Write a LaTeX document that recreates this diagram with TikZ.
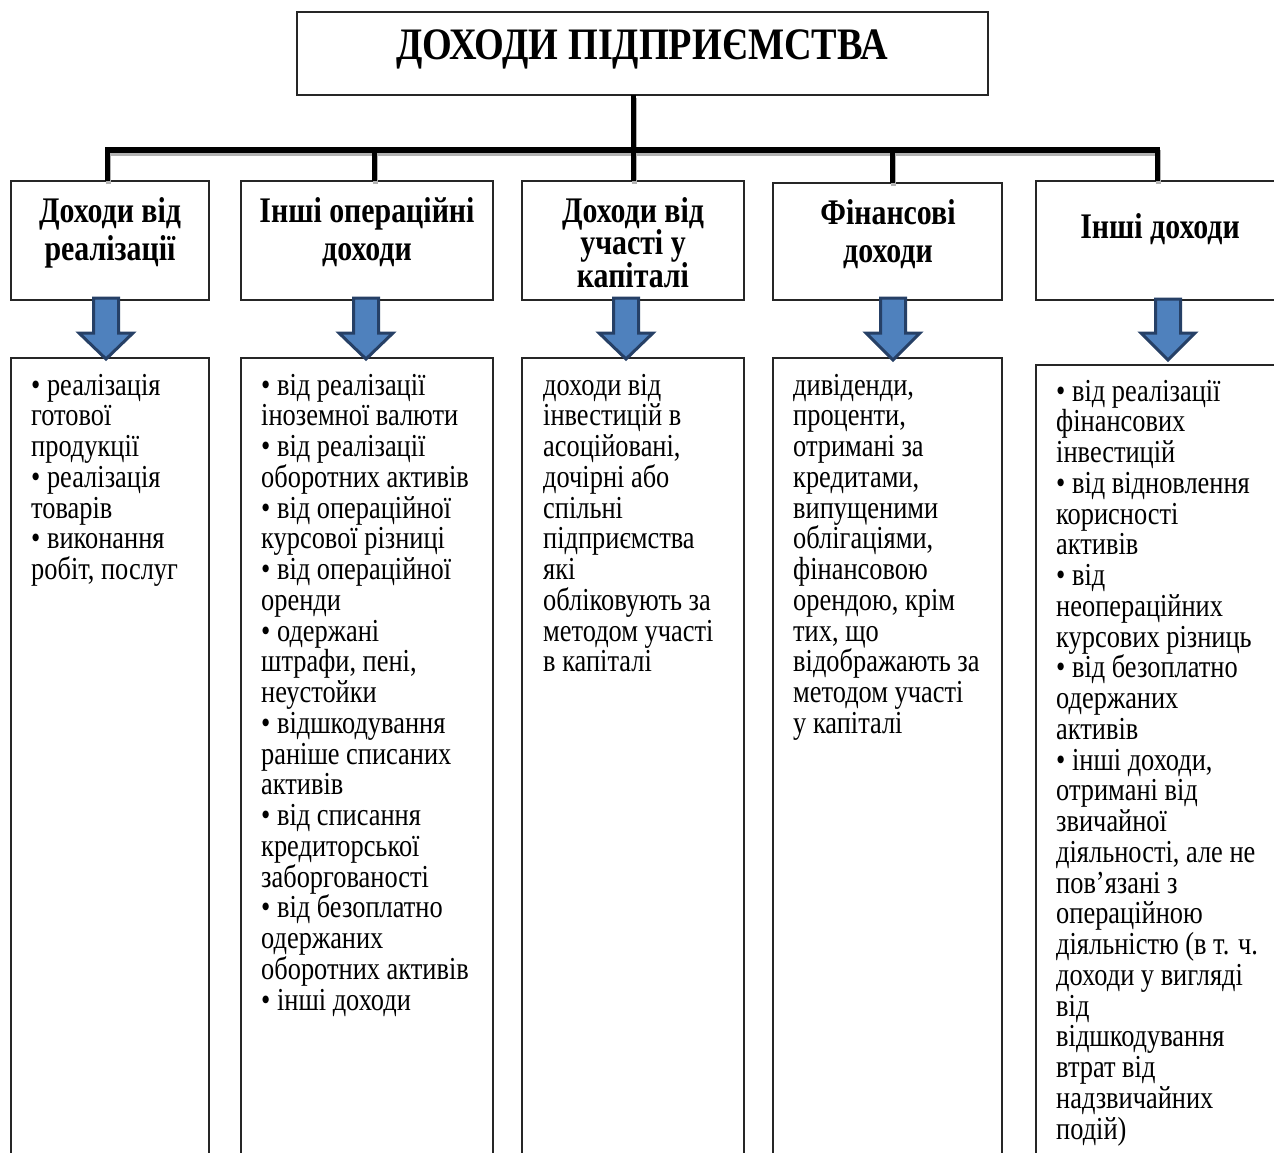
\documentclass[tikz,border=0pt]{standalone}
\usepackage{fontspec}
\setmainfont{Liberation Serif}[FakeStretch=0.825]
\newfontfamily\hdrfont{Liberation Serif}[FakeStretch=0.83]
\newfontfamily\titlefont{Liberation Serif}[FakeStretch=0.85]
\definecolor{arrfill}{RGB}{79,129,189}
\definecolor{arrline}{RGB}{38,64,102}
\tikzset{
  boxed/.style={draw=black!85, line width=1.2, inner sep=0, outer sep=0, anchor=north west},
  bus/.style={line width=5, black, line join=miter},
  busshade/.style={line width=5, black!30, transform canvas={shift={(1,3)}}},
  barrow/.style={fill=arrfill, draw=arrline, line width=3, line join=miter},
  bodytxt/.style={anchor=north west, inner sep=0, align=left,
    font=\fontsize{32}{30.75}\selectfont},
  hdrtxt/.style={anchor=north, inner sep=0, align=center,
    font=\hdrfont\bfseries\fontsize{36}{38.5}\selectfont},
}
\newcommand\blockarr[3]{%
  \draw[barrow] ({#1-12.5},#2) -- ({#1+12.5},#2) -- ({#1+12.5},333) -- ({#1+27},333)
    -- (#1,#3) -- ({#1-27},333) -- ({#1-12.5},333) -- cycle;}
\begin{document}
\lineskiplimit=-30pt
\lineskip=0pt
\begin{tikzpicture}[x=1pt,y=-1pt]
\useasboundingbox (0,0) rectangle (1274,1153);
\fill[white] (0,0) rectangle (1274,1153);
% title
\node[boxed, minimum width=691, minimum height=83] (title) at (297,12) {};
\node[anchor=base, inner sep=0, font=\titlefont\bfseries\fontsize{45}{50}\selectfont] (ttxt) at (642,60) {ДОХОДИ ПІДПРИЄМСТВА};
% header boxes
\node[boxed, minimum width=198, minimum height=119] (h1) at (11,181) {};
\node[boxed, minimum width=252, minimum height=119] (h2) at (241,181) {};
\node[boxed, minimum width=222, minimum height=119] (h3) at (522,181) {};
\node[boxed, minimum width=229, minimum height=117] (h4) at (773,183) {};
\node[boxed, minimum width=260, minimum height=119] (h5) at (1036,181) {};
% body boxes
\node[boxed, minimum width=198, minimum height=820] (b1) at (11,358) {};
\node[boxed, minimum width=252, minimum height=820] (b2) at (241,358) {};
\node[boxed, minimum width=222, minimum height=820] (b3) at (522,358) {};
\node[boxed, minimum width=229, minimum height=820] (b4) at (773,358) {};
\node[boxed, minimum width=260, minimum height=820] (b5) at (1036,365) {};
% bus connectors
\coordinate (busy) at (0,150);
\coordinate (d1) at (107,181);
\coordinate (d2) at (374,181);
\coordinate (d3) at (633,181);
\coordinate (d4) at (892,183);
\coordinate (d5) at (1157,181);
\foreach \s in {busshade,bus}{
  \draw[\s] (d1) -- (d1 |- busy) -- (d5 |- busy) -- (d5);
  \draw[\s] (d2) -- (d2 |- busy);
  \draw[\s] (d4) -- (d4 |- busy);
  \draw[\s] (d3) -- (d3 |- title.south);
}
% block arrows
\blockarr{106}{298}{359}
\blockarr{366}{298}{359}
\blockarr{626}{298}{359}
\blockarr{893}{298}{360}
\blockarr{1168}{299}{360}
% header texts
\node[hdrtxt] (t1) at (110,196) {\rule{0pt}{26pt}Доходи від\\реалізації};
\node[hdrtxt] (t2) at (367,196) {\rule{0pt}{26pt}Інші операційні\\доходи};
\node[hdrtxt, font=\hdrfont\bfseries\fontsize{36}{32.5}\selectfont] (t3) at (633,196) {\rule{0pt}{26pt}Доходи від\\участі у\\капіталі};
\node[hdrtxt] (t4) at (888,198) {\rule{0pt}{26pt}Фінансові\\доходи};
\node[hdrtxt] (t5) at (1160,212) {\rule{0pt}{26pt}Інші доходи};
% body texts
\node[bodytxt] (x1) at (31,371) {\rule{0pt}{24pt}• реалізація\\готової\\продукції\\• реалізація\\товарів\\• виконання\\робіт, послуг};
\node[bodytxt] (x2) at (261,371) {\rule{0pt}{24pt}• від реалізації\\іноземної валюти\\• від реалізації\\оборотних активів\\• від операційної\\курсової різниці\\• від операційної\\оренди\\• одержані\\штрафи, пені,\\неустойки\\• відшкодування\\раніше списаних\\активів\\• від списання\\кредиторської\\заборгованості\\• від безоплатно\\одержаних\\оборотних активів\\• інші доходи};
\node[bodytxt] (x3) at (543,371) {\rule{0pt}{24pt}доходи від\\інвестицій в\\асоційовані,\\дочірні або\\спільні\\підприємства\\які\\обліковують за\\методом участі\\в капіталі};
\node[bodytxt] (x4) at (793,371) {\rule{0pt}{24pt}дивіденди,\\проценти,\\отримані за\\кредитами,\\випущеними\\облігаціями,\\фінансовою\\орендою, крім\\тих, що\\відображають за\\методом участі\\у капіталі};
\node[bodytxt] (x5) at (1056,377) {\rule{0pt}{24pt}• від реалізації\\фінансових\\інвестицій\\• від відновлення\\корисності\\активів\\• від\\неопераційних\\курсових різниць\\• від безоплатно\\одержаних\\активів\\• інші доходи,\\отримані від\\звичайної\\діяльності, але не\\пов’язані з\\операційною\\діяльністю (в т. ч.\\доходи у вигляді\\від\\відшкодування\\втрат від\\надзвичайних\\подій)};
\end{tikzpicture}
\end{document}
